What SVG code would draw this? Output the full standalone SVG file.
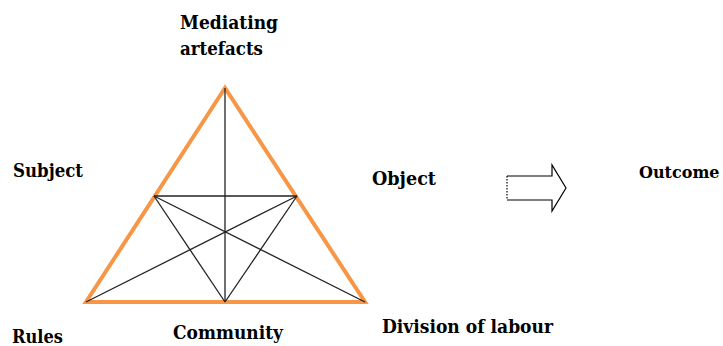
<svg xmlns="http://www.w3.org/2000/svg" width="723" height="346" viewBox="0 0 723 346">
<style>
.lbl{font-family:"DejaVu Serif",serif;font-weight:bold;font-size:18px;fill:#000}
.tri{fill:none;stroke:#F79646;stroke-width:4;stroke-linejoin:miter}
.ln{stroke:#222;stroke-width:1.3;fill:none}
.arr{fill:#fff;stroke:#000;stroke-width:1.2}
</style>
<rect width="723" height="346" fill="#fff"/>
<g id="connectors">
<polygon class="tri" points="225,88 86,302 365,302"/>
<line class="ln" x1="225" y1="88" x2="225" y2="302"/>
<line class="ln" x1="154" y1="196" x2="297" y2="196"/>
<line class="ln" x1="154" y1="196" x2="225" y2="302"/>
<line class="ln" x1="154" y1="196" x2="365" y2="302"/>
<line class="ln" x1="297" y1="196" x2="225" y2="302"/>
<line class="ln" x1="297" y1="196" x2="86" y2="302"/>
</g>
<g id="arrow">
<path class="arr" d="M507,176 L552,176 L552,165 L566,188 L552,211 L552,200 L507,200" stroke-linejoin="miter"/>
<line x1="507" y1="176" x2="507" y2="200" stroke="#000" stroke-width="1.2" stroke-dasharray="1.5,1.5"/>
</g>
<g id="mediating"><text class="lbl" x="180" y="29" textLength="98" lengthAdjust="spacingAndGlyphs">Mediating</text><text class="lbl" x="180" y="55" textLength="83" lengthAdjust="spacingAndGlyphs">artefacts</text></g>
<g id="subject"><text class="lbl" x="13" y="177" textLength="70" lengthAdjust="spacingAndGlyphs">Subject</text></g>
<g id="object"><text class="lbl" x="372" y="185" textLength="64" lengthAdjust="spacingAndGlyphs">Object</text></g>
<g id="outcome"><text class="lbl" x="639" y="178" style="font-size:16px">Outcome</text></g>
<g id="rules"><text class="lbl" x="12" y="343" textLength="51" lengthAdjust="spacingAndGlyphs">Rules</text></g>
<g id="community"><text class="lbl" x="173" y="339" textLength="110" lengthAdjust="spacingAndGlyphs">Community</text></g>
<g id="division"><text class="lbl" x="382" y="333" textLength="171" lengthAdjust="spacingAndGlyphs">Division of labour</text></g>
</svg>
